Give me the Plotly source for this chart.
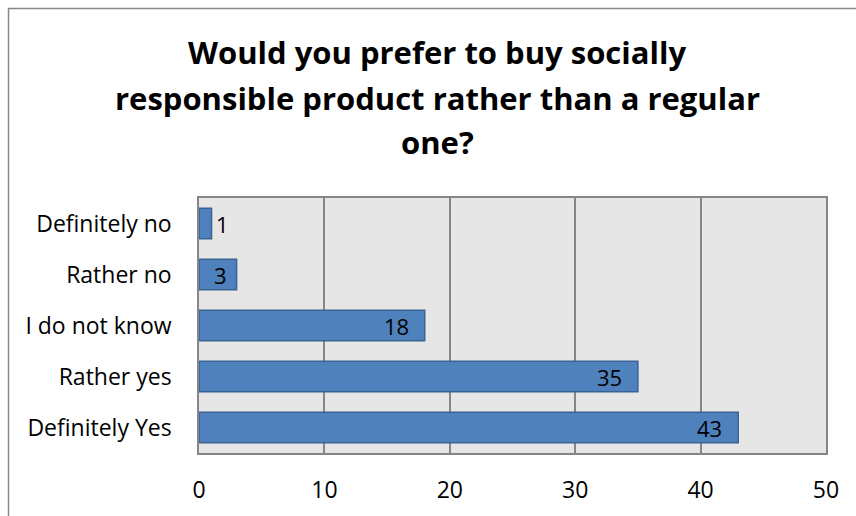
import plotly.graph_objects as go

categories = ["Definitely no", "Rather no", "I do not know", "Rather yes", "Definitely Yes"]
values = [1, 3, 18, 35, 43]
x_ticks = [0, 10, 20, 30, 40, 50]
title_lines = [
    "Would you prefer to buy socially",
    "responsible product rather than a regular",
    "one?",
]

FONT = "Open Sans"
TICK_SIZE = 23
LABEL_SIZE = 22
TITLE_SIZE = 31

W, H = 856, 516
L, R, T, B = 199, 30, 198, 63
pw, ph = W - L - R, H - T - B


def px_x(p):
    return (p - L) / pw


def px_y(p):
    return (H - B - p) / ph


fig = go.Figure(
    go.Bar(
        y=categories,
        x=values,
        orientation="h",
        marker=dict(color="#4f81bd", line=dict(color="#3a6394", width=1.5)),
        width=0.6,
        hoverinfo="x+y",
    )
)

# value labels: inside the bar end, or just past it when the bar is too short
annotations = []
for cat, v in zip(categories, values):
    if v < 2:
        anchor, shift = "left", 2
    elif v < 10:
        anchor, shift = "right", -8
    else:
        anchor, shift = "right", -14
    annotations.append(
        dict(
            x=v,
            y=cat,
            xref="x",
            yref="y",
            text=str(v),
            showarrow=False,
            xanchor=anchor,
            xshift=shift,
            yanchor="middle",
            font=dict(family=FONT, size=LABEL_SIZE, color="#000000"),
        )
    )

# three-line bold title
title_centres = [52, 98, 142]
for line, yc in zip(title_lines, title_centres):
    annotations.append(
        dict(
            x=px_x(437),
            y=px_y(yc),
            xref="paper",
            yref="paper",
            text=f"<b>{line}</b>",
            showarrow=False,
            xanchor="center",
            yanchor="middle",
            font=dict(family=FONT, size=TITLE_SIZE, color="#000000"),
        )
    )

fig.update_layout(
    width=W,
    height=H,
    margin=dict(l=L, r=R, t=T, b=B, autoexpand=False),
    paper_bgcolor="white",
    plot_bgcolor="#e6e6e6",
    showlegend=False,
    font=dict(family=FONT, size=TICK_SIZE, color="#000000"),
    xaxis=dict(
        range=[0, 50],
        tickvals=x_ticks,
        ticktext=[str(t) for t in x_ticks],
        showgrid=True,
        gridcolor="#868686",
        gridwidth=1.5,
        zeroline=False,
        showline=True,
        linecolor="#868686",
        linewidth=1.5,
        mirror=True,
        ticks="",
        ticklabelstandoff=16,
        automargin=False,
        tickfont=dict(family=FONT, size=TICK_SIZE),
    ),
    yaxis=dict(
        categoryorder="array",
        categoryarray=categories,
        autorange="reversed",
        showgrid=False,
        showline=True,
        linecolor="#868686",
        linewidth=1.5,
        mirror=True,
        ticks="",
        ticklabelstandoff=21,
        automargin=False,
        tickfont=dict(family=FONT, size=TICK_SIZE),
    ),
    bargap=0.4,
    annotations=annotations,
    shapes=[
        dict(
            type="rect",
            xref="paper",
            yref="paper",
            x0=px_x(8.5),
            x1=px_x(900),
            y0=px_y(560),
            y1=px_y(8.5),
            line=dict(color="#868686", width=1.5),
            fillcolor="rgba(0,0,0,0)",
            layer="below",
        )
    ],
)

fig.write_html("out.html")
